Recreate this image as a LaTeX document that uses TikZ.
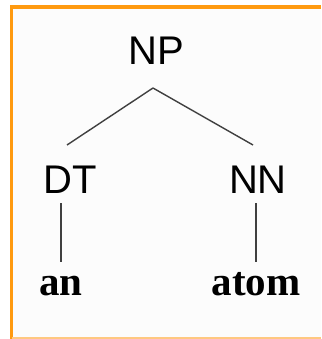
\documentclass[tikz,border=0pt]{standalone}
\usepackage{fontspec}
\setmainfont{Liberation Serif}
\setsansfont{Liberation Sans}
\definecolor{frameorange}{HTML}{FF9A10}
\definecolor{framelight}{HTML}{FFC880}
\definecolor{edgegray}{HTML}{404040}
\begin{document}
\begin{tikzpicture}[x=1pt,y=-1pt,
  cat/.style={font=\sffamily\fontsize{40}{48}\selectfont, inner sep=0pt, anchor=base},
  word/.style={font=\rmfamily\bfseries\fontsize{41}{48}\selectfont, inner sep=0pt, anchor=base},
  edge/.style={draw=edgegray, line width=1.4pt}]
\useasboundingbox (0,0) rectangle (321,339);
\fill[white!99!black] (12,8) rectangle (321,338);
\draw[frameorange, line width=3.5pt] (11.5,339) -- (11.5,7) -- (321,7);
\draw[framelight, line width=1.5pt] (11.5,338) -- (321,338);
\node[cat] (NP) at (156,65) {NP};
\node[cat] (DT) at (70,193) {DT};
\node[cat] (NN) at (258,193) {NN};
\node[word] (an) at (61,295) {an};
\node[word] (atom) at (256,295) {atom};
\draw[edge] ([xshift=-3pt,yshift=-23pt]NP.base) -- ([xshift=-3pt,yshift=48pt]DT.base);
\draw[edge] ([xshift=-3pt,yshift=-23pt]NP.base) -- ([xshift=-5pt,yshift=48pt]NN.base);
\draw[edge] ([yshift=-10pt]DT.base -| an.base) -- ([yshift=33pt]an.base);
\draw[edge] ([yshift=-10pt]NN.base -| atom.base) -- ([yshift=33pt]atom.base);
\end{tikzpicture}
\end{document}
